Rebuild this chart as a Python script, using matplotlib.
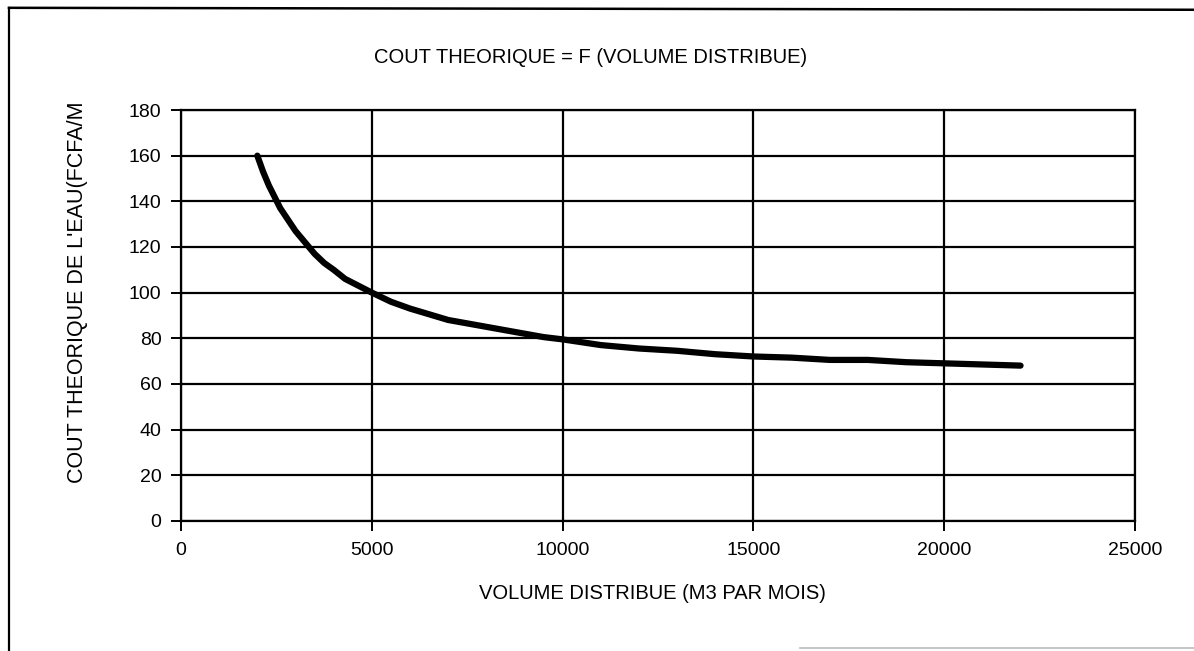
import numpy as np
import matplotlib.pyplot as plt
from matplotlib.lines import Line2D

# volume distribue (m3 par mois) vs cout theorique (FCFA/m3)
volume = [2000, 2150, 2300, 2450, 2600, 2800, 3000, 3250, 3500, 3750, 4000,
          4300, 4650, 5000, 5500, 6000, 6500, 7000, 7500, 8000, 8500,
          9000, 9500, 10000, 11000, 12000, 13000, 14000, 15000, 16000,
          17000, 18000, 19000, 20000, 21000, 22000]
cout = [160, 153, 147, 142, 137, 132, 127, 122, 117, 113, 110,
        106, 103, 100, 96, 93, 90.5, 88, 86.5, 85, 83.5,
        82, 80.5, 79.5, 77, 75.5, 74.5, 73, 72, 71.5,
        70.5, 70.5, 69.5, 69, 68.5, 68]

xticks = [0, 5000, 10000, 15000, 20000, 25000]
yticks = list(range(0, 181, 20))

plt.rcParams['font.family'] = ['Liberation Sans', 'DejaVu Sans']

fig = plt.figure(figsize=(11.94, 6.51), dpi=100)
ax = fig.add_axes([0.1516, 0.2, 0.7990, 0.631])

ax.plot(volume, cout, color='black', linewidth=4.5, solid_capstyle='round',
        solid_joinstyle='round')

ax.set_xlim(0, 25000)
ax.set_ylim(0, 180)
ax.set_xticks(xticks)
ax.set_yticks(yticks)
ax.grid(True, color='black', linewidth=1.6)
ax.set_axisbelow(True)
for s in ax.spines.values():
    s.set_linewidth(1.6)
    s.set_color('black')
ax.tick_params(axis='both', direction='out', length=7, width=1.4,
               labelsize=14, colors='black', pad=7)
ax.tick_params(axis='x', pad=8)

ax.set_xlabel('VOLUME DISTRIBUE (M3 PAR MOIS)', fontsize=14.5)
ax.xaxis.set_label_coords(0.494, -0.155)
ax.set_ylabel("COUT THEORIQUE DE L'EAU(FCFA/M", fontsize=15.5)
ax.yaxis.set_label_coords(-0.0975, 0.557)
fig.text(0.495, 0.912, 'COUT THEORIQUE = F (VOLUME DISTRIBUE)',
         fontsize=14.5, ha='center', va='center')

# scanned page frame (left and top edges)
fig.add_artist(Line2D([0.0075, 0.0075], [0.0, 0.988], color='black',
                      linewidth=1.6, transform=fig.transFigure))
fig.add_artist(Line2D([0.0075, 1.0], [0.988, 0.985], color='black',
                      linewidth=1.8, transform=fig.transFigure))
fig.add_artist(Line2D([0.67, 1.0], [0.004, 0.004], color='#bbbbbb',
                      linewidth=1.2, transform=fig.transFigure))

fig.savefig('out.png', dpi=100)
